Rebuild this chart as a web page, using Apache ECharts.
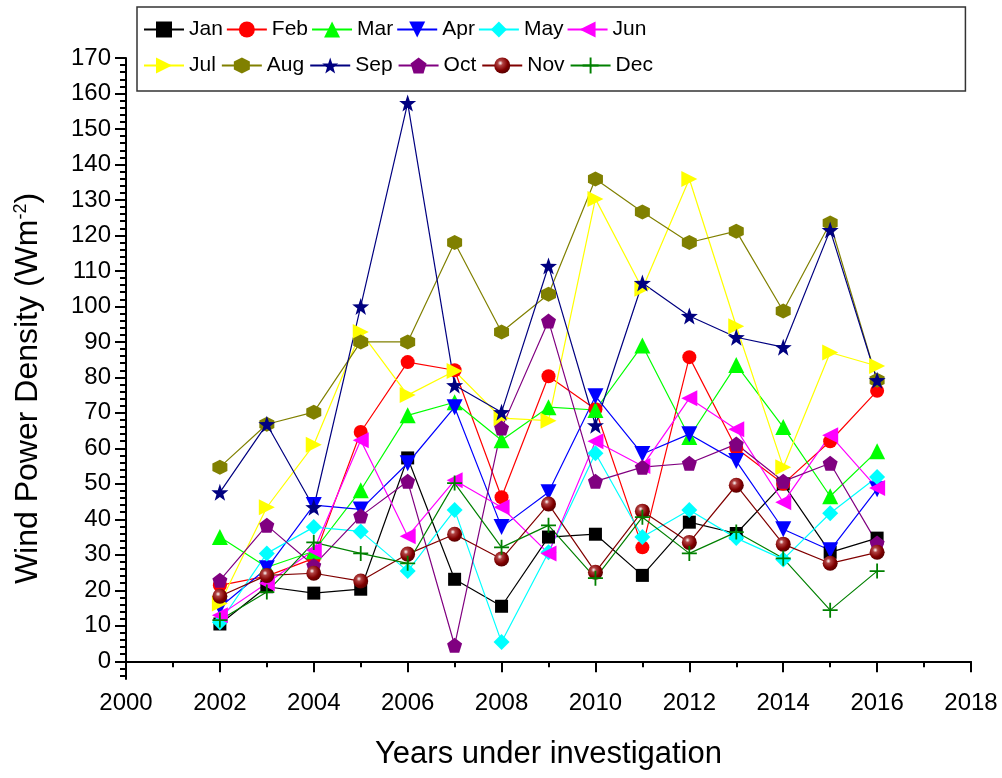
<!DOCTYPE html>
<html>
<head>
<meta charset="utf-8">
<script src="https://cdn.jsdelivr.net/npm/echarts@6/dist/echarts.min.js"></script>
<style>html,body{margin:0;padding:0;background:#fff}#c{width:1002px;height:778px}</style>
</head>
<body>
<div id="c"></div>
<script>
const years = [2002,2003,2004,2005,2006,2007,2008,2009,2010,2011,2012,2013,2014,2015,2016];
const months = ['Jan','Feb','Mar','Apr','May','Jun','Jul','Aug','Sep','Oct','Nov','Dec'];
const Jan = [10.5, 21, 19.2, 20.3, 57.3, 23.1, 15.5, 35, 35.8, 24.2, 39.2, 36, 50, 30.7, 34.7];
const Feb = [21.4, 24, 29, 64.6, 84.3, 82, 46.2, 80.3, 71, 32.1, 85.7, 60, 50, 62, 76.2];
const Mar = [35, 26.5, 31, 48.2, 69.3, 73, 62.3, 71.6, 70.8, 89, 63.2, 83.5, 66, 46.5, 59.2];
const Apr = [15.2, 26.2, 44, 42.8, 55.8, 71.6, 37.8, 47.6, 74.7, 58.4, 64, 56.4, 37.2, 31.3, 48.5];
const May = [11, 30.4, 37.8, 36.6, 25.4, 42.6, 5.4, 30.7, 58.6, 35, 42.6, 34.7, 28.7, 41.7, 51.9];
const Jun = [13, 22, 31.3, 62.3, 35.2, 51, 43.4, 30.4, 62, 55, 74.1, 65.4, 44.8, 63.7, 48.8];
const Jul = [16.3, 43.4, 61, 92.8, 75, 81.8, 68.5, 67.8, 130.3, 105, 135.9, 94.4, 54.7, 87, 83.2];
const Aug = [54.7, 66.8, 70.2, 90, 90, 118, 92.8, 103.4, 135.9, 126.6, 118, 121.2, 98.7, 123.5, 79.2];
const Sep = [47.6, 66.8, 43.4, 100, 157.3, 77.8, 70.2, 111.4, 66.5, 106.6, 97.3, 91.3, 88.5, 121.5, 79.2];
const Oct = [22.8, 38.3, 27, 40.9, 50.7, 4.5, 65.7, 95.9, 50.7, 54.7, 55.8, 61.2, 50.7, 55.8, 33.3];
const Nov = [18.3, 24.2, 24.8, 22.6, 30.2, 35.8, 28.8, 44.3, 25.1, 42.3, 33.5, 49.6, 33, 27.6, 30.7];
const Dec = [11.6, 19.5, 33.5, 30.4, 27.6, 50.2, 32.1, 38.3, 23.4, 40.6, 30.4, 36.4, 29, 14.4, 25.4];
const yMajorTicks = [0,10,20,30,40,50,60,70,80,90,100,110,120,130,140,150,160,170];
const yMinorTicks = [-4,-2,2,4,6,8,12,14,16,18,22,24,26,28,32,34,36,38,42,44,46,48,52,54,56,58,62,64,66,68,72,74,76,78,82,84,86,88,92,94,96,98,102,104,106,108,112,114,116,118,122,124,126,128,132,134,136,138,142,144,146,148,152,154,156,158,162,164,166,168];

const values = {Jan,Feb,Mar,Apr,May,Jun,Jul,Aug,Sep,Oct,Nov,Dec};
const hexagon = 'path://M5,0L9.33,2.5L9.33,7.5L5,10L0.67,7.5L0.67,2.5Z';
const star = 'path://M5,0L6.18,3.38L9.76,3.45L6.9,5.62L7.94,9.05L5,7L2.06,9.05L3.1,5.62L0.24,3.45L3.82,3.38Z';
const pentagon = 'path://M5,0L10,3.63L8.09,9.5L1.91,9.5L0,3.63Z';
const plus = 'path://M4.4,0H5.6V4.4H10V5.6H5.6V10H4.4V5.6H0V4.4H4.4Z';
const style = {
  Jan:{c:'#000000', s:'rect', z:13, r:0},
  Feb:{c:'#FF0000', s:'circle', z:14, r:0},
  Mar:{c:'#00FF00', s:'triangle', z:16, r:0},
  Apr:{c:'#0000FF', s:'triangle', z:16, r:180},
  May:{c:'#00FFFF', s:'diamond', z:16, r:0},
  Jun:{c:'#FF00FF', s:'triangle', z:16, r:90},
  Jul:{c:'#FFFF00', s:'triangle', z:16, r:-90},
  Aug:{c:'#808000', s:hexagon, z:15, r:0},
  Sep:{c:'#000080', s:star, z:17, r:0},
  Oct:{c:'#800080', s:pentagon, z:15, r:0},
  Nov:{c:'#800000', s:'circle', z:15, r:0},
  Dec:{c:'#008000', s:plus, z:15, r:0}
};
const series = months.map(m => {
  const st = style[m];
  const fill = m === 'Nov' ? {type:'radial', x:0.38, y:0.35, r:0.65, colorStops:[{offset:0,color:'#ffffff'},{offset:0.25,color:'#b04040'},{offset:0.7,color:'#800000'},{offset:1,color:'#5a0000'}]} : st.c;
  return {
    name: m, type: 'line',
    data: years.map((y,i) => [y, values[m][i]]),
    symbol: st.s, symbolSize: st.z, symbolRotate: st.r,
    showAllSymbol: true,
    lineStyle: {color: st.c, width: 1.2},
    itemStyle: {color: fill, borderWidth: 0},
    emphasis: {disabled: true},
    animation: false
  };
});
const font = 'Liberation Sans, Arial, sans-serif';
const legendText = {fontFamily: font, fontSize: 21, color: '#000'};
const chart = echarts.init(document.getElementById('c'), null, {renderer: 'canvas'});
chart.setOption({
  backgroundColor: '#fff',
  animation: false,
  legend: [
    {data: months.slice(0,6), left: 137, top: 7, width: 800, orient: 'horizontal', itemGap: 3, itemWidth: 40, itemHeight: 20,
     padding: [12, 319, 51, 6], borderColor: '#333', borderWidth: 1.5, textStyle: legendText, selectedMode: false},
    {data: months.slice(6), left: 143, top: 55, width: 800, orient: 'horizontal', itemGap: 5, itemWidth: 40, itemHeight: 20,
     padding: 0, textStyle: legendText, selectedMode: false}
  ],
  grid: {left: 126, right: 31, top: 58, bottom: 99, containLabel: false},
  xAxis: {
    type: 'value', min: 2000, max: 2018, interval: 2,
    name: 'Years under investigation', nameLocation: 'middle', nameGap: 60,
    nameTextStyle: {fontFamily: font, fontSize: 31, color: '#000'},
    axisLine: {show: true, lineStyle: {color: '#000', width: 2}},
    axisTick: {show: true, length: 11, lineStyle: {color: '#000', width: 2}},
    minorTick: {show: true, splitNumber: 2, length: 6, lineStyle: {color: '#000', width: 2}},
    axisLabel: {fontFamily: font, fontSize: 24, color: '#000', margin: 12, formatter: v => String(v)},
    splitLine: {show: false}, minorSplitLine: {show: false}
  },
  yAxis: [
    {
      type: 'value', min: -5, max: 170,
      name: '{n|Wind Power Density (Wm}{s|-2}{n|)}', nameLocation: 'middle', nameGap: 82, nameRotate: 90,
      nameTextStyle: {fontFamily: font, fontSize: 32, color: '#000', padding: [0, 40, 0, 0], rich: {
        n: {fontFamily: font, fontSize: 32, color: '#000'},
        s: {fontFamily: font, fontSize: 18, color: '#000', verticalAlign: 'top', padding: [0,0,14,0]}
      }},
      axisLine: {show: true, onZero: false, lineStyle: {color: '#000', width: 2}},
      axisTick: {show: true, length: 11, customValues: yMajorTicks, lineStyle: {color: '#000', width: 2}},
      axisLabel: {fontFamily: font, fontSize: 24, color: '#000', margin: 15, customValues: yMajorTicks},
      splitLine: {show: false}
    },
    {
      type: 'value', min: -5, max: 170, position: 'left',
      axisLine: {show: false},
      axisTick: {show: true, length: 6, customValues: yMinorTicks, lineStyle: {color: '#000', width: 2}},
      axisLabel: {show: false},
      splitLine: {show: false}
    }
  ],
  series: series
});
</script>
</body>
</html>
